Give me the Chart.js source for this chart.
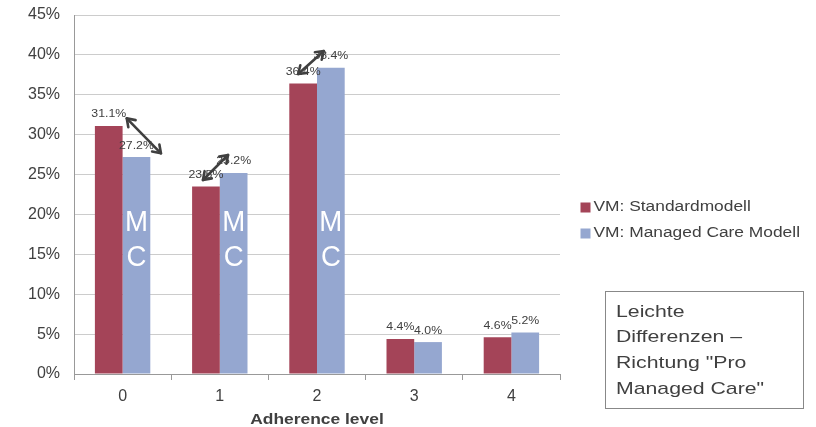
<!DOCTYPE html>
<html lang="de">
<head>
    <meta charset="UTF-8">
    <title>Adherence level</title>
    <script src="https://cdn.jsdelivr.net/npm/chart.js"></script>
    <style>
        html, body { margin: 0; padding: 0; background: #fff; }
        #wrap { position: relative; width: 816px; height: 427px; }
    </style>
</head>
<body>
    <div id="wrap">
        <canvas id="chart" width="816" height="427"></canvas>
    </div>

    <script>
        // Data
        const categories = ['0', '1', '2', '3', '4'];
        const standardValues = [31.1, 23.5, 36.4, 4.4, 4.6];
        const managedCareValues = [27.2, 25.2, 38.4, 4.0, 5.2];
        const seriesNames = ['VM: Standardmodell', 'VM: Managed Care Modell'];
        const yTicks = [0, 5, 10, 15, 20, 25, 30, 35, 40, 45];
        const axisTitle = 'Adherence level';
        const noteLines = ['Leichte', 'Differenzen \u2013', 'Richtung "Pro', 'Managed Care"'];
        const mcCategories = [0, 1, 2];

        const RED = '#A44458';
        const BLUE = '#95A7D0';
        const TEXT = '#404040';
        const FONT = '"Liberation Sans", Arial, sans-serif';

        // arrows between the paired labels: [category, dx1, dy1, dx2, dy2] relative to red / blue bar tops
        const arrows = [
            [0, 18, -7.5, 24.5, -3.7],
            [1, -3, -6.5, -5.6, -18],
            [2, -5, -9.6, -7, -16.6]
        ];

        // the reference text is a bit wider than Liberation Sans
        function wideText(ctx, text, x, y, sx) {
            ctx.save();
            ctx.translate(x, y);
            ctx.scale(sx, 1);
            ctx.fillText(text, 0, 0);
            ctx.restore();
        }

        function drawArrowHead(ctx, x, y, ang) {
            const len = 9, spread = 0.6;
            ctx.beginPath();
            ctx.moveTo(x - len * Math.cos(ang - spread), y - len * Math.sin(ang - spread));
            ctx.lineTo(x, y);
            ctx.lineTo(x - len * Math.cos(ang + spread), y - len * Math.sin(ang + spread));
            ctx.stroke();
        }

        const extras = {
            id: 'extras',
            afterDatasetsDraw(chart) {
                const ctx = chart.ctx;
                const red = chart.getDatasetMeta(0).data;
                const blue = chart.getDatasetMeta(1).data;

                // value labels
                ctx.save();
                ctx.font = '11px ' + FONT;
                ctx.fillStyle = TEXT;
                ctx.textAlign = 'center';
                ctx.textBaseline = 'alphabetic';
                [red, blue].forEach((bars, d) => {
                    const vals = d === 0 ? standardValues : managedCareValues;
                    bars.forEach((b, i) => {
                        wideText(ctx, vals[i].toFixed(1) + '%', b.x, b.y - 8.5, 1.12);
                    });
                });

                // MC letters inside blue bars
                ctx.font = '30px ' + FONT;
                ctx.fillStyle = '#ffffff';
                const ys = chart.scales.y;
                mcCategories.forEach(i => {
                    const b = blue[i];
                    wideText(ctx, 'M', b.x, ys.getPixelForValue(17.95), 0.92);
                    wideText(ctx, 'C', b.x, ys.getPixelForValue(13.5), 0.92);
                });

                // arrows
                ctx.strokeStyle = '#404040';
                ctx.lineWidth = 2.6;
                ctx.lineCap = 'round';
                ctx.lineJoin = 'round';
                arrows.forEach(a => {
                    const r = red[a[0]], bl = blue[a[0]];
                    const x1 = r.x + a[1], y1 = r.y + a[2];
                    const x2 = bl.x + a[3], y2 = bl.y + a[4];
                    ctx.beginPath();
                    ctx.moveTo(x1, y1);
                    ctx.lineTo(x2, y2);
                    ctx.stroke();
                    const ang = Math.atan2(y2 - y1, x2 - x1);
                    drawArrowHead(ctx, x2, y2, ang);
                    drawArrowHead(ctx, x1, y1, ang + Math.PI);
                });
                ctx.restore();
            },
            afterDraw(chart) {
                const ctx = chart.ctx;
                const area = chart.chartArea;
                ctx.save();
                ctx.fillStyle = TEXT;
                ctx.textBaseline = 'alphabetic';

                // x axis title
                ctx.font = 'bold 15px ' + FONT;
                ctx.textAlign = 'center';
                wideText(ctx, axisTitle, (area.left + area.right) / 2, 424, 1.16);

                // legend
                ctx.font = '14px ' + FONT;
                ctx.textAlign = 'left';
                ctx.textBaseline = 'middle';
                chart.data.datasets.forEach((ds, i) => {
                    const y = 207.5 + i * 26;
                    ctx.fillStyle = ds.backgroundColor;
                    ctx.fillRect(580.5, y - 5, 10, 10);
                    ctx.fillStyle = TEXT;
                    wideText(ctx, ds.label, 593.5, y, 1.24);
                });

                // note box
                ctx.strokeStyle = '#888888';
                ctx.lineWidth = 1;
                ctx.strokeRect(605.5, 291.5, 198, 117);
                ctx.font = '17px ' + FONT;
                ctx.textBaseline = 'alphabetic';
                noteLines.forEach((t, i) => {
                    wideText(ctx, t, 616, 316.7 + i * 25.6, 1.25);
                });
                ctx.restore();
            }
        };

        new Chart(document.getElementById('chart'), {
            type: 'bar',
            data: {
                labels: categories,
                datasets: [
                    { label: seriesNames[0], data: standardValues, backgroundColor: RED },
                    { label: seriesNames[1], data: managedCareValues, backgroundColor: BLUE }
                ]
            },
            options: {
                responsive: false,
                animation: false,
                devicePixelRatio: 1,
                layout: { padding: { top: 15, right: 256, left: 0, bottom: 0 } },
                datasets: { bar: { categoryPercentage: 0.57, barPercentage: 1 } },
                plugins: {
                    legend: { display: false },
                    tooltip: { enabled: false }
                },
                scales: {
                    x: {
                        afterFit: s => { s.height = 53; s.paddingLeft = 0; s.paddingRight = 0; },
                        grid: { offset: true, drawOnChartArea: false, tickLength: 6, color: '#999999' },
                        border: { color: '#999999' },
                        ticks: { color: TEXT, font: { family: FONT, size: 16 }, padding: 7 }
                    },
                    y: {
                        min: 0, max: 45,
                        afterFit: s => { s.width = 74; s.paddingTop = 0; s.paddingBottom = 0; },
                        afterBuildTicks: s => { s.ticks = yTicks.map(v => ({ value: v })); },
                        grid: { color: '#cccccc', drawTicks: false },
                        border: { color: '#999999' },
                        ticks: {
                            color: TEXT, font: { family: FONT, size: 16 }, padding: 14,
                            callback: v => v + '%'
                        }
                    }
                }
            },
            plugins: [extras]
        });
    </script>
</body>
</html>
